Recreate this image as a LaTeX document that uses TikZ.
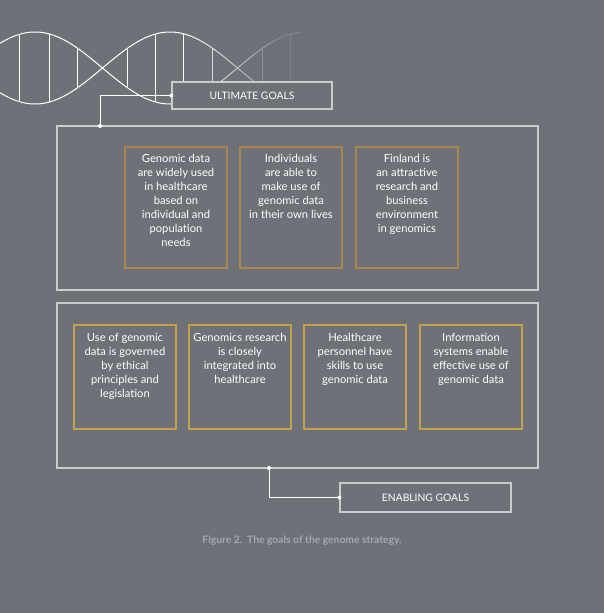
\documentclass[tikz,border=0pt]{standalone}
\usepackage{fontspec}
\setmainfont{Lato}
\definecolor{bg}{HTML}{6E7178}
\definecolor{panelgray}{HTML}{CACBCE}
\definecolor{ultgold}{HTML}{A9854F}
\definecolor{engold}{HTML}{C4A24C}
\definecolor{capgray}{HTML}{A4A7AC}
\begin{document}
\begin{tikzpicture}[x=1pt,y=-1pt,
  panel/.style={draw=panelgray,line width=1.3pt,inner sep=0pt},
  ultbox/.style={draw=ultgold,line width=1.2pt,minimum width=102pt,minimum height=121pt,inner sep=0pt},
  enbox/.style={draw=engold,line width=1.2pt,minimum width=102pt,minimum height=104pt,inner sep=0pt},
  goaltext/.style={anchor=north,text=white,align=center,font=\fontsize{11.2}{14}\selectfont,inner sep=0pt},
  tag/.style={draw=panelgray,line width=1.3pt,fill=bg,text=white,font=\fontsize{10.3}{13}\selectfont,inner sep=0pt},
  link/.style={draw=white,line width=0.9pt},
  dot/.style={fill=white,circle,inner sep=0pt,minimum size=4pt}]
\fill[bg] (0,0) rectangle (604,613);
\useasboundingbox (0,0) rectangle (604,613);
% helix, fading out to the right
\foreach \a in {0,5,...,295}{
  \pgfmathsetmacro\b{\a+5}
  \pgfmathsetmacro\op{max(0.12,min(1,1-(\a-185)/110))}
  \draw[white,opacity=\op,line width=1pt,domain=\a:\b,samples=4,variable=\t]
    plot (\t,{68-36*cos((\t-35)*4/3)}) plot (\t,{68+36*cos((\t-35)*4/3)});
}
\foreach \r in {19,49,77,127,155,183,212,262,290}{
  \pgfmathsetmacro\op{max(0.12,min(1,1-(\r-185)/100))}
  \pgfmathsetmacro\h{36*cos((\r-35)*4/3)}
  \draw[white,opacity=\op,line width=1pt] (\r,68-\h) -- (\r,68+\h);
}
% panels
\node[panel,minimum width=481pt,minimum height=164pt] (ultpanel) at (297.5,208) {};
\node[panel,minimum width=481pt,minimum height=165pt] (enpanel) at (297.5,385.5) {};
% ultimate goals
\node[ultbox] (u1) at (176,207.5) {};
\node[ultbox] (u2) at (291,207.5) {};
\node[ultbox] (u3) at (407,207.5) {};
\node[goaltext] at ([yshift=-8pt]u1.north) {Genomic data\\are widely used\\in healthcare\\based on\\individual and\\population\\needs};
\node[goaltext] at ([yshift=-8pt]u2.north) {Individuals\\are able to\\make use of\\genomic data\\in their own lives};
\node[goaltext] at ([yshift=-8pt]u3.north) {Finland is\\an attractive\\research and\\business\\environment\\in genomics};
% enabling goals
\node[enbox] (e1) at (125,377) {};
\node[enbox] (e2) at (240,377) {};
\node[enbox] (e3) at (355,377) {};
\node[enbox] (e4) at (471,377) {};
\node[goaltext] at ([yshift=-9pt]e1.north) {Use of genomic\\data is governed\\by ethical\\principles and\\legislation};
\node[goaltext] at ([yshift=-9pt]e2.north) {Genomics research\\is closely\\integrated into\\healthcare};
\node[goaltext] at ([yshift=-9pt]e3.north) {Healthcare\\personnel have\\skills to use\\genomic data};
\node[goaltext] at ([yshift=-9pt]e4.north) {Information\\systems enable\\effective use of\\genomic data};
% tags and links
\node[tag,minimum width=160pt,minimum height=27pt] (ulttag) at (252,95.5) {ULTIMATE GOALS};
\node[tag,minimum width=171pt,minimum height=29pt] (entag) at (425.5,497.5) {ENABLING GOALS};
\coordinate (ultjoin) at (100,126);
\coordinate (enjoin) at (269,468);
\draw[link] (ulttag.west) -| (ultjoin);
\draw[link] (enjoin) |- (entag.west);
\node[dot] at (ulttag.west) {};
\node[dot] at (ultjoin) {};
\node[dot] at (enjoin) {};
\node[dot] at (entag.west) {};
\node[font=\bfseries\fontsize{10.3}{12}\selectfont,text=capgray] (caption) at (302,541) {Figure 2.\ \ The goals of the genome strategy.};
\end{tikzpicture}
\end{document}
